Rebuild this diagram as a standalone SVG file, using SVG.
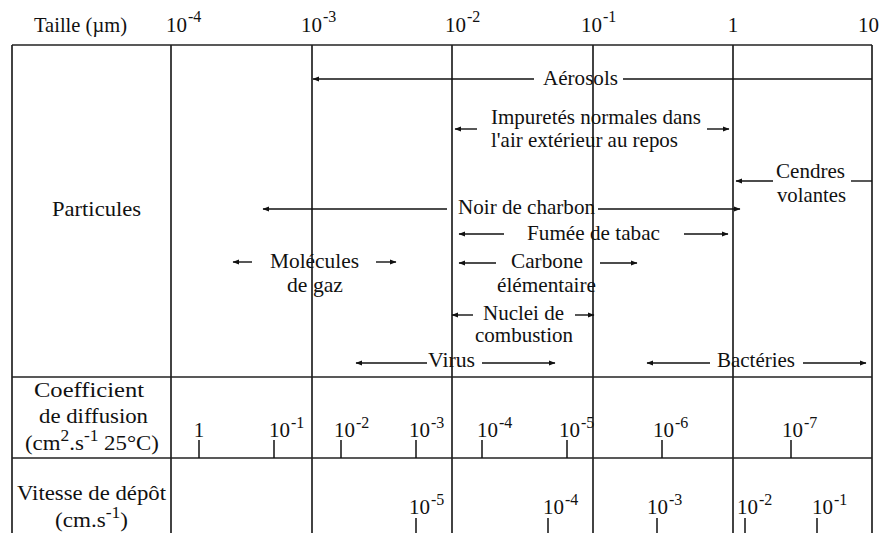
<svg xmlns="http://www.w3.org/2000/svg" width="882" height="533" viewBox="0 0 882 533">
<style>
text{font-family:"Liberation Serif","Times New Roman",serif;font-size:21px;fill:#111}
.sup{font-size:16px}
.grid line{stroke:#222;stroke-width:1.7}
.conn line{stroke:#111;stroke-width:1.4;fill:none}
.tick line{stroke:#111;stroke-width:1.5}
</style>
<defs>
<marker id="ah" markerWidth="7" markerHeight="6" refX="6" refY="3" orient="auto" markerUnits="userSpaceOnUse">
<path d="M0,0.6 L6.5,3 L0,5.4 z" fill="#111"/>
</marker>
</defs>
<rect width="882" height="533" fill="#fff"/>

<g id="grid" class="grid">
<line x1="12" y1="45" x2="872" y2="45"/>
<line x1="12" y1="377" x2="872" y2="377"/>
<line x1="12" y1="458" x2="872" y2="458"/>
<line x1="12" y1="45" x2="12" y2="533"/>
<line x1="171" y1="45" x2="171" y2="533"/>
<line x1="312" y1="45" x2="312" y2="533"/>
<line x1="452" y1="45" x2="452" y2="533"/>
<line x1="593" y1="45" x2="593" y2="533"/>
<line x1="733" y1="45" x2="733" y2="533"/>
<line x1="872" y1="45" x2="872" y2="533"/>
</g>

<g id="header">
<text x="34" y="32" textLength="93" lengthAdjust="spacingAndGlyphs">Taille (µm)</text>
<text x="166" y="32">10<tspan class="sup" dx="1" dy="-10">-4</tspan></text>
<text x="301" y="32">10<tspan class="sup" dx="1" dy="-10">-3</tspan></text>
<text x="445" y="32">10<tspan class="sup" dx="1" dy="-10">-2</tspan></text>
<text x="581" y="32">10<tspan class="sup" dx="1" dy="-10">-1</tspan></text>
<text x="733" y="32" text-anchor="middle">1</text>
<text x="858" y="32">10</text>
</g>

<g id="row-particules">
<text x="52" y="216" textLength="89" lengthAdjust="spacingAndGlyphs">Particules</text>
</g>

<g id="aerosols"><text x="543" y="85" textLength="75" lengthAdjust="spacingAndGlyphs">Aérosols</text></g>
<g id="impuretes">
<text x="491" y="124" textLength="210" lengthAdjust="spacingAndGlyphs">Impuretés normales dans</text>
<text x="491" y="147" textLength="187" lengthAdjust="spacingAndGlyphs">l'air extérieur au repos</text>
</g>
<g id="cendres">
<text x="776" y="178" textLength="69" lengthAdjust="spacingAndGlyphs">Cendres</text>
<text x="777" y="202" textLength="69" lengthAdjust="spacingAndGlyphs">volantes</text>
</g>
<g id="noir"><text x="458" y="214" textLength="137" lengthAdjust="spacingAndGlyphs">Noir de charbon</text></g>
<g id="fumee"><text x="527" y="240" textLength="133" lengthAdjust="spacingAndGlyphs">Fumée de tabac</text></g>
<g id="molecules">
<text x="270" y="268" textLength="89" lengthAdjust="spacingAndGlyphs">Molécules</text>
<text x="287" y="292" textLength="56" lengthAdjust="spacingAndGlyphs">de gaz</text>
</g>
<g id="carbone">
<text x="511" y="268" textLength="72" lengthAdjust="spacingAndGlyphs">Carbone</text>
<text x="497" y="292" textLength="99" lengthAdjust="spacingAndGlyphs">élémentaire</text>
</g>
<g id="nuclei">
<text x="483" y="320" textLength="81" lengthAdjust="spacingAndGlyphs">Nuclei de</text>
<text x="475" y="342" textLength="98" lengthAdjust="spacingAndGlyphs">combustion</text>
</g>
<g id="virus"><text x="428" y="367" textLength="47" lengthAdjust="spacingAndGlyphs">Virus</text></g>
<g id="bacteries"><text x="717" y="367" textLength="78" lengthAdjust="spacingAndGlyphs">Bactéries</text></g>

<g id="connectors" class="conn">
<line x1="534" y1="79" x2="313" y2="79" marker-end="url(#ah)"/>
<line x1="623" y1="79" x2="872" y2="79"/>
<line x1="477" y1="129" x2="455" y2="129" marker-end="url(#ah)"/>
<line x1="707" y1="129" x2="729" y2="129" marker-end="url(#ah)"/>
<line x1="773" y1="181" x2="736" y2="181" marker-end="url(#ah)"/>
<line x1="851" y1="181" x2="872" y2="181"/>
<line x1="447" y1="209" x2="263" y2="209" marker-end="url(#ah)"/>
<line x1="598" y1="209" x2="740" y2="209" marker-end="url(#ah)"/>
<line x1="504" y1="234" x2="459" y2="234" marker-end="url(#ah)"/>
<line x1="684" y1="234" x2="728" y2="234" marker-end="url(#ah)"/>
<line x1="252" y1="262" x2="233" y2="262" marker-end="url(#ah)"/>
<line x1="376" y1="262" x2="396" y2="262" marker-end="url(#ah)"/>
<line x1="496" y1="263" x2="459" y2="263" marker-end="url(#ah)"/>
<line x1="600" y1="263" x2="637" y2="263" marker-end="url(#ah)"/>
<line x1="473" y1="315" x2="452" y2="315" marker-end="url(#ah)"/>
<line x1="575" y1="315" x2="594" y2="315" marker-end="url(#ah)"/>
<line x1="427" y1="363" x2="356" y2="363" marker-end="url(#ah)"/>
<line x1="482" y1="363" x2="555" y2="363" marker-end="url(#ah)"/>
<line x1="710" y1="363" x2="647" y2="363" marker-end="url(#ah)"/>
<line x1="803" y1="363" x2="866" y2="363" marker-end="url(#ah)"/>
</g>

<g id="row-diffusion">
<text x="34" y="397" textLength="110" lengthAdjust="spacingAndGlyphs">Coefficient</text>
<text x="39" y="423" textLength="109" lengthAdjust="spacingAndGlyphs">de diffusion</text>
<text x="25" y="450" textLength="134" lengthAdjust="spacingAndGlyphs">(cm<tspan class="sup" dy="-9">2</tspan><tspan dy="9">.s</tspan><tspan class="sup" dy="-9">-1</tspan><tspan dy="9"> 25°C)</tspan></text>
</g>
<g id="diffusion-scale">
<g class="tick">
<line x1="199" y1="440" x2="199" y2="458"/>
<line x1="274" y1="440" x2="274" y2="458"/>
<line x1="341" y1="440" x2="341" y2="458"/>
<line x1="416" y1="440" x2="416" y2="458"/>
<line x1="482" y1="440" x2="482" y2="458"/>
<line x1="567" y1="440" x2="567" y2="458"/>
<line x1="662" y1="440" x2="662" y2="458"/>
<line x1="791" y1="440" x2="791" y2="458"/>
</g>
<text x="199" y="437" text-anchor="middle">1</text>
<text x="269" y="437">10<tspan class="sup" dx="1" dy="-9">-1</tspan></text>
<text x="334" y="437">10<tspan class="sup" dx="1" dy="-9">-2</tspan></text>
<text x="409" y="437">10<tspan class="sup" dx="1" dy="-9">-3</tspan></text>
<text x="477" y="437">10<tspan class="sup" dx="1" dy="-9">-4</tspan></text>
<text x="559" y="437">10<tspan class="sup" dx="1" dy="-9">-5</tspan></text>
<text x="653" y="437">10<tspan class="sup" dx="1" dy="-9">-6</tspan></text>
<text x="782" y="437">10<tspan class="sup" dx="1" dy="-9">-7</tspan></text>
</g>

<g id="row-depot">
<text x="17" y="500" textLength="149" lengthAdjust="spacingAndGlyphs">Vitesse de dépôt</text>
<text x="55" y="527" textLength="73" lengthAdjust="spacingAndGlyphs">(cm.s<tspan class="sup" dy="-9">-1</tspan><tspan dy="9">)</tspan></text>
</g>
<g id="depot-scale">
<g class="tick">
<line x1="416" y1="518" x2="416" y2="533"/>
<line x1="548" y1="518" x2="548" y2="533"/>
<line x1="657" y1="518" x2="657" y2="533"/>
<line x1="745" y1="518" x2="745" y2="533"/>
<line x1="817" y1="518" x2="817" y2="533"/>
</g>
<text x="409" y="514">10<tspan class="sup" dx="1" dy="-9">-5</tspan></text>
<text x="543" y="514">10<tspan class="sup" dx="1" dy="-9">-4</tspan></text>
<text x="647" y="514">10<tspan class="sup" dx="1" dy="-9">-3</tspan></text>
<text x="737" y="514">10<tspan class="sup" dx="1" dy="-9">-2</tspan></text>
<text x="812" y="514">10<tspan class="sup" dx="1" dy="-9">-1</tspan></text>
</g>
</svg>
